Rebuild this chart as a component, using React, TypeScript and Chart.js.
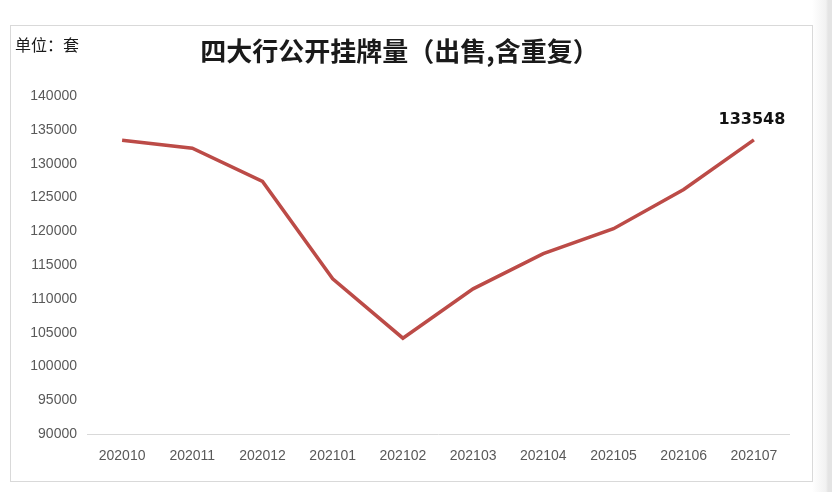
import React, { useEffect, useRef } from "react";
import { Chart, registerables } from "chart.js";

Chart.register(...registerables);

const categories = ["202010", "202011", "202012", "202101", "202102", "202103", "202104", "202105", "202106", "202107"];
const listings = [133500, 132300, 127400, 113000, 104200, 111500, 116700, 120400, 126200, 133548];
const titleText = "四大行公开挂牌量（出售,含重复）";
const unitText = "单位：套";
const yMin = 90000;
const yMax = 140000;
const yStep = 5000;

const overlayPlugin = {
  id: "overlay",
  afterDatasetsDraw(chart: any) {
    const ctx = chart.ctx;
    ctx.save();
    ctx.font = '16px "Noto Sans CJK SC"';
    ctx.fillStyle = "#1a1a1a";
    ctx.textAlign = "left";
    ctx.textBaseline = "middle";
    ctx.fillText(unitText, 15, 45);
    const meta = chart.getDatasetMeta(0);
    const last = meta.data[meta.data.length - 1];
    const v = listings[listings.length - 1];
    ctx.font = 'bold 16px "DejaVu Sans"';
    ctx.fillStyle = "#111";
    ctx.textAlign = "center";
    ctx.textBaseline = "middle";
    ctx.fillText(String(v), last.x - 2, last.y - 20);
    ctx.restore();
  },
};

export default function App() {
  const ref = useRef<HTMLCanvasElement>(null);
  useEffect(() => {
    if (!ref.current) return;
    const chart = new Chart(ref.current, {
      type: "line",
      data: {
        labels: categories,
        datasets: [
          {
            data: listings,
            borderColor: "#bc4b47",
            borderWidth: 3.5,
            pointRadius: 0,
            tension: 0,
            fill: false,
          },
        ],
      },
      options: {
        animation: false,
        responsive: false,
        maintainAspectRatio: false,
        layout: { padding: { left: 10, right: 43, top: 25, bottom: 13 } },
        plugins: {
          legend: { display: false },
          tooltip: { enabled: false },
          title: {
            display: true,
            text: titleText,
            color: "#1a1a1a",
            font: { family: '"Noto Sans CJK SC"', size: 26, weight: "bold" },
            padding: { top: 11, bottom: 29 },
          },
        },
        scales: {
          x: {
            offset: true,
            grid: { display: false, drawTicks: false },
            border: { display: true, color: "#d9d9d9", width: 1 },
            ticks: {
              color: "#595959",
              font: { family: '"Liberation Sans"', size: 14 },
              padding: 14,
              maxRotation: 0,
            },
          },
          y: {
            min: yMin,
            max: yMax,
            grid: { display: false, drawTicks: false },
            border: { display: false },
            ticks: {
              stepSize: yStep,
              color: "#595959",
              font: { family: '"Liberation Sans"', size: 14 },
              padding: 10,
              callback: (v: any) => String(v),
            },
            afterFit(scale: any) {
              scale.width = 77;
            },
          },
        },
      },
      plugins: [overlayPlugin],
    });
    return () => chart.destroy();
  }, []);

  return (
    <div style={{ position: "fixed", left: 0, top: 0, width: 832, height: 492, background: "#fff", overflow: "hidden" }}>
      <div
        style={{
          position: "absolute",
          left: 812,
          top: 0,
          width: 20,
          height: 492,
          background: "linear-gradient(to right, #ffffff 0px, #f1f1f1 14px, #e4e4e4 16px, #e4e4e4 20px)",
        }}
      />
      <div
        style={{
          position: "absolute",
          left: 10,
          top: 25,
          width: 801,
          height: 455,
          border: "1px solid #d9d9d9",
        }}
      />
      <canvas ref={ref} width={832} height={492} style={{ position: "absolute", left: 0, top: 0, width: 832, height: 492 }} />
    </div>
  );
}
